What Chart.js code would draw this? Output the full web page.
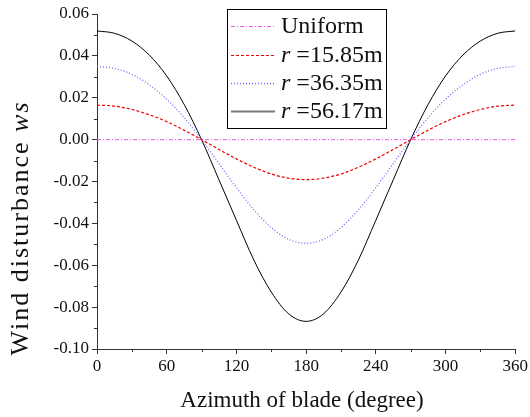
<!DOCTYPE html>
<html><head><meta charset="utf-8">
<script src="https://cdn.jsdelivr.net/npm/chart.js@4/dist/chart.umd.min.js"></script>
<style>html,body{margin:0;padding:0;background:#fff}#wrap{width:530px;height:417px}</style>
</head><body><div id="wrap"><canvas id="c" width="530" height="417"></canvas></div>
<script>
const azimuth = [0,15,30,45,60,75,90,105,120,135,150,165,180,195,210,225,240,255,270,285,300,315,330,345,360];
const wsUniform = [0,0,0,0,0,0,0,0,0,0,0,0,0,0,0,0,0,0,0,0,0,0,0,0,0];
const ws1585 = [0.0165,0.0160,0.0144,0.0119,0.0086,0.0045,0.0000,-0.0047,-0.0092,-0.0132,-0.0164,-0.0184,-0.0191,-0.0184,-0.0164,-0.0132,-0.0092,-0.0047,0.0000,0.0045,0.0086,0.0119,0.0144,0.0160,0.0165];
const ws3635 = [0.0350,0.0340,0.0312,0.0262,0.0193,0.0105,0.0000,-0.0114,-0.0229,-0.0335,-0.0420,-0.0476,-0.0495,-0.0476,-0.0420,-0.0335,-0.0229,-0.0114,0.0000,0.0105,0.0193,0.0262,0.0312,0.0340,0.0350];
const ws5617 = [0.0519,0.0508,0.0471,0.0404,0.0304,0.0168,0.0000,-0.0192,-0.0385,-0.0575,-0.0728,-0.0832,-0.0868,-0.0832,-0.0728,-0.0575,-0.0385,-0.0192,0.0000,0.0168,0.0304,0.0404,0.0471,0.0508,0.0519];
const seriesNames = ['Uniform','r =15.85m','r =36.35m','r =56.17m'];
const xTitle = 'Azimuth of blade (degree)';
const yTitle = ['Wind disturbance ', 'ws'];

const FONT = '"Liberation Serif", "Times New Roman", serif';
const AXC = '#333';

function pts(arr){ return azimuth.map((a,i)=>({x:a,y:arr[i]})); }

const styles = [
  {color:'#ee55ee', dash:[4,2,1,2], width:1, legColor:'#ee55ee', legWidth:1},
  {color:'#ee0000', dash:[3,2], width:1.2, legColor:'#ee0000', legWidth:1.2},
  {color:'#6b6bff', dash:[1,2], width:1.3, legColor:'#6b6bff', legWidth:1.3},
  {color:'#000000', dash:[], width:1, legColor:'#777777', legWidth:2}
];
const seriesData = [wsUniform, ws1585, ws3635, ws5617];

const datasets = seriesData.map((d,i)=>({
  label: seriesNames[i], data: pts(d), borderColor: styles[i].color, borderWidth: styles[i].width,
  borderDash: styles[i].dash, pointRadius: 0, fill: false, cubicInterpolationMode: 'monotone'
}));

const decor = {
  id:'decor',
  afterDraw(chart){
    const ctx = chart.ctx, xs = chart.scales.x, ys = chart.scales.y;
    ctx.save();
    ctx.strokeStyle = AXC; ctx.lineWidth = 1;
    for (let v=-0.09; v<0.06; v+=0.02){
      const py = Math.round(ys.getPixelForValue(v))+0.5;
      ctx.beginPath(); ctx.moveTo(xs.left-3, py); ctx.lineTo(xs.left, py); ctx.stroke();
    }
    for (let v=30; v<360; v+=60){
      const px = Math.round(xs.getPixelForValue(v))+0.5;
      ctx.beginPath(); ctx.moveTo(px, ys.bottom); ctx.lineTo(px, ys.bottom+3); ctx.stroke();
    }
    ctx.fillStyle = '#111';
    ctx.font = '23px ' + FONT;
    ctx.textAlign = 'center'; ctx.textBaseline = 'middle';
    ctx.fillText(xTitle, 302, 401);
    ctx.save();
    ctx.translate(21, 228); ctx.rotate(-Math.PI/2);
    const YF = 26, LS = 2;
    if ('letterSpacing' in ctx) ctx.letterSpacing = LS + 'px';
    ctx.font = YF + 'px ' + FONT;
    const w1 = ctx.measureText(yTitle[0]).width;
    ctx.font = 'italic ' + YF + 'px ' + FONT;
    const w2 = ctx.measureText(yTitle[1]).width;
    const start = -(w1+w2)/2;
    ctx.textAlign = 'left';
    ctx.font = YF + 'px ' + FONT; ctx.fillText(yTitle[0], start, 0);
    ctx.font = 'italic ' + YF + 'px ' + FONT; ctx.fillText(yTitle[1], start+w1, 0);
    if ('letterSpacing' in ctx) ctx.letterSpacing = '0px';
    ctx.restore();
    const bx=227, by=9, bw=159, bh=119;
    ctx.fillStyle='#fff'; ctx.fillRect(bx,by,bw,bh);
    ctx.strokeStyle='#000'; ctx.lineWidth=1;
    ctx.strokeRect(bx+0.5,by+0.5,bw,bh);
    const rows=[26,55,83,111];
    seriesNames.forEach((name,i)=>{
      const y = rows[i]+0.5;
      ctx.strokeStyle = styles[i].legColor; ctx.lineWidth = styles[i].legWidth;
      ctx.setLineDash(styles[i].dash);
      ctx.beginPath(); ctx.moveTo(231,y); ctx.lineTo(275,y); ctx.stroke();
      ctx.setLineDash([]);
      ctx.fillStyle='#111'; ctx.textAlign='left'; ctx.textBaseline='middle';
      let x = 281;
      if (name.startsWith('r ')){
        ctx.font='italic 24px ' + FONT; ctx.fillText('r', x, rows[i]+1);
        x += ctx.measureText('r').width;
        ctx.font='24px ' + FONT; ctx.fillText(name.slice(1), x, rows[i]+1);
      } else {
        ctx.font='24px ' + FONT; ctx.fillText(name, x, rows[i]+1);
      }
    });
    ctx.restore();
  }
};

new Chart(document.getElementById('c'), {
  type:'line',
  data:{datasets},
  options:{
    responsive:false, animation:false, devicePixelRatio:1,
    layout:{padding:{left:0, top:14, right:13, bottom:0}},
    plugins:{legend:{display:false}, tooltip:{enabled:false}},
    scales:{
      x:{type:'linear', min:0, max:360,
        ticks:{stepSize:60, color:'#111', font:{family:FONT, size:17}, padding:2, maxRotation:0},
        grid:{drawOnChartArea:false, drawTicks:true, tickLength:5, color:AXC},
        border:{display:true, color:AXC, width:1},
        afterFit(s){ s.height = 68; }
      },
      y:{type:'linear', min:-0.1, max:0.06,
        ticks:{stepSize:0.02, color:'#111', font:{family:FONT, size:17}, padding:3,
          callback:(v)=> (Math.abs(v)<1e-9?0:v).toFixed(2)},
        grid:{drawOnChartArea:false, drawTicks:true, tickLength:5, color:AXC},
        border:{display:true, color:AXC, width:1},
        afterFit(s){ s.width = 97; }
      }
    }
  },
  plugins:[decor]
});
</script></body></html>
